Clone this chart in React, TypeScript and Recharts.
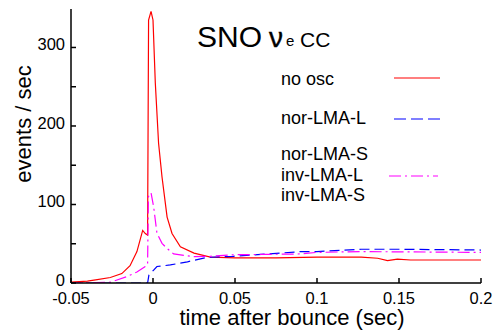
import { LineChart, Line, XAxis, YAxis } from "recharts";

const xTicks = [-0.05, 0, 0.05, 0.1, 0.15, 0.2];
const yTicks = [0, 50, 100, 150, 200, 250, 300];

// no osc (red, solid)
const noOscT = [-0.05, -0.04, -0.035, -0.026, -0.019, -0.014, -0.0098, -0.0063, -0.0047, -0.0033, -0.0027, -0.0012, 0, 0.0014, 0.0034, 0.0055, 0.0086, 0.0116, 0.0167, 0.025, 0.035, 0.05, 0.075, 0.1, 0.127, 0.137, 0.143, 0.149, 0.157, 0.2];
const noOscV = [1, 2.5, 4, 7, 12, 22, 40, 67, 63, 61, 335, 346, 335, 255, 178, 135, 84, 63, 46, 38, 33, 32, 32, 33, 33, 31.5, 28.5, 30.5, 29.3, 29.3];

// nor-LMA-L (blue, dashed)
const norLT = [-0.05, -0.0033, -0.0025, 0.0004, 0.0024, 0.0106, 0.021, 0.033, 0.049, 0.07, 0.09, 0.1, 0.127, 0.15, 0.2];
const norLV = [0, 0, 10, 16.5, 21, 23, 27, 32.7, 34, 37, 40, 40, 43, 43, 42];

// nor-LMA-S / inv-LMA-L / inv-LMA-S (magenta, dash-dot)
const invT = [-0.05, -0.035, -0.026, -0.016, -0.0098, -0.0047, -0.0033, -0.0028, -0.0012, 0.0004, 0.0024, 0.0055, 0.0086, 0.0126, 0.025, 0.035, 0.05, 0.09, 0.1, 0.127, 0.2];
const invV = [0, 0.5, 1, 8, 14, 21, 23, 110, 115, 97, 63.5, 50.5, 44, 37, 33.5, 34, 36, 37, 39, 40, 39];

const zip = (t: number[], v: number[]) => t.map((x, i) => ({ t: x, v: v[i] }));

const font = "'Liberation Sans', Arial, sans-serif";
const axisProps = {
  stroke: "#000",
  strokeWidth: 1.5,
  tickSize: -5,
};

export default function App() {
  return (
    <div style={{ position: "absolute", left: 0, top: 0, width: 494, height: 332, background: "#fff" }}>
      <LineChart width={494} height={332} margin={{ top: 9, right: 13, bottom: 0, left: 0 }}>
        <XAxis
          dataKey="t"
          type="number"
          domain={[-0.05, 0.2]}
          allowDataOverflow
          ticks={xTicks}
          height={49}
          tickMargin={14}
          tick={{ fill: "#000", fontSize: 16.5, fontFamily: font }}
          {...axisProps}
        />
        <XAxis
          xAxisId="top"
          orientation="top"
          type="number"
          domain={[-0.05, 0.2]}
          allowDataOverflow
          ticks={xTicks}
          height={0}
          tickFormatter={() => ""}
          {...axisProps}
        />
        <YAxis
          type="number"
          domain={[0, 349]}
          allowDataOverflow
          ticks={yTicks}
          width={71}
          tickMargin={11}
          tickFormatter={(v: number) => (v % 100 === 0 ? String(v) : "")}
          tick={{ fill: "#000", fontSize: 16.5, fontFamily: font, dy: -3 }}
          {...axisProps}
        />
        <YAxis
          yAxisId="right"
          orientation="right"
          type="number"
          domain={[0, 349]}
          allowDataOverflow
          ticks={yTicks}
          width={0}
          tickFormatter={() => ""}
          {...axisProps}
        />
        <Line data={zip(noOscT, noOscV)} dataKey="v" stroke="#ff0000" strokeWidth={1.2} dot={false} isAnimationActive={false} type="linear" />
        <Line data={zip(norLT, norLV)} dataKey="v" stroke="#0000ff" strokeWidth={1.2} strokeDasharray="10 5" dot={false} isAnimationActive={false} type="linear" />
        <Line data={zip(invT, invV)} dataKey="v" stroke="#ff00ff" strokeWidth={1.2} strokeDasharray="12 4 2 4" dot={false} isAnimationActive={false} type="linear" />
      </LineChart>
      <svg width={494} height={332} style={{ position: "absolute", left: 0, top: 0, pointerEvents: "none" }} fontFamily={font}>
        <text x={197} y={47} fontSize={30} fill="#000">SNO</text>
        <text x={269} y={47} fontSize={28} fill="#000" stroke="#000" strokeWidth={0.4}>ν</text>
        <text x={286} y={46} fontSize={15} fill="#000">e</text>
        <text x={300} y={47} fontSize={21} fill="#000">CC</text>

        <text x={281} y={85} fontSize={18} fill="#000">no osc</text>
        <line x1={394} y1={78} x2={440} y2={78} stroke="#ff0000" strokeWidth={1.2} />
        <text x={281} y={124} fontSize={18} fill="#000">nor-LMA-L</text>
        <line x1={394} y1={119} x2={440} y2={119} stroke="#0000ff" strokeWidth={1.2} strokeDasharray="12 5" />
        <text x={281} y={160} fontSize={18} fill="#000">nor-LMA-S</text>
        <text x={281} y={181} fontSize={18} fill="#000">inv-LMA-L</text>
        <text x={281} y={201} fontSize={18} fill="#000">inv-LMA-S</text>
        <line x1={389} y1={176} x2={438} y2={176} stroke="#ff00ff" strokeWidth={1.2} strokeDasharray="12 4 2 4" />

        <text x={292} y={325} fontSize={22} textAnchor="middle" fill="#000">time after bounce (sec)</text>
        <text x={31} y={124} fontSize={22} textAnchor="middle" fill="#000" transform="rotate(-90, 31, 124)">events / sec</text>
      </svg>
    </div>
  );
}
